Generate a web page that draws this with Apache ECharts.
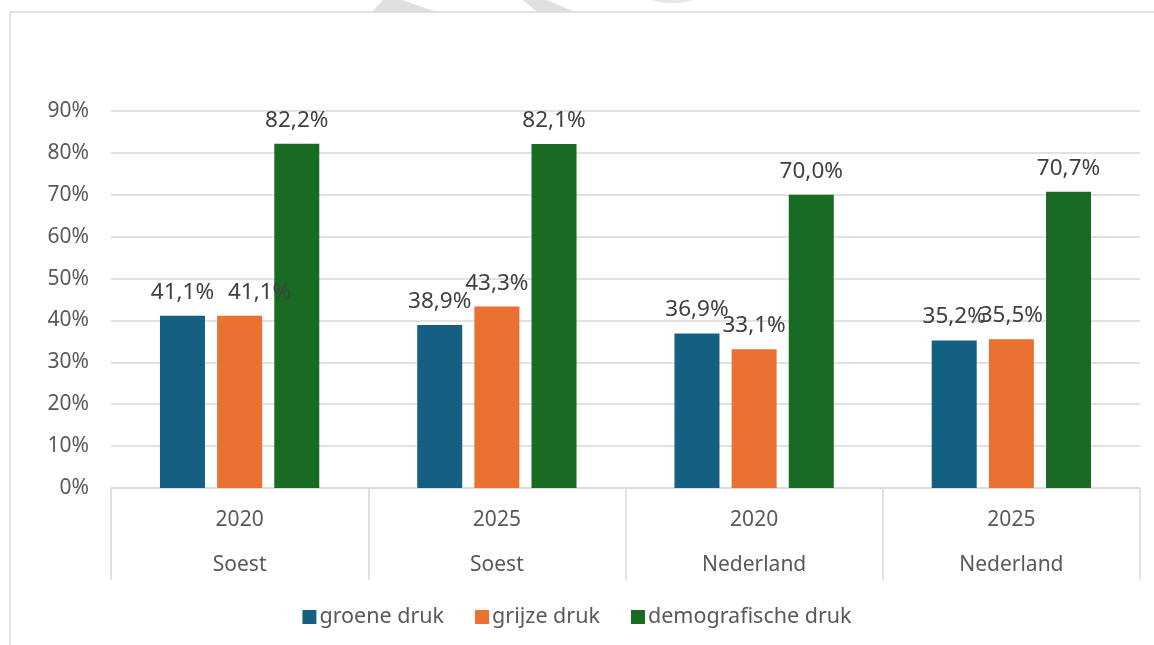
<!DOCTYPE html>
<html>
<head>
<meta charset="utf-8">
<script src="https://cdn.jsdelivr.net/npm/echarts@6/dist/echarts.min.js"></script>
<style>
html,body{margin:0;padding:0;background:#fff;}
#chart{width:1154px;height:645px;}
</style>
</head>
<body>
<div id="chart"></div>
<script>
const years = ['2020', '2025', '2020', '2025'];
const regions = ['Soest', 'Soest', 'Nederland', 'Nederland'];
const seriesNames = ['groene druk', 'grijze druk', 'demografische druk'];
const groeneDruk = [41.1, 38.9, 36.9, 35.2];
const grijzeDruk = [41.1, 43.3, 33.1, 35.5];
const demografischeDruk = [82.2, 82.1, 70.0, 70.7];
const colors = ['#156082', '#E97132', '#196B24'];

const categories = years.map((y, i) => y + '|' + regions[i]);
const FONT = '"Noto Sans", sans-serif';

const chart = echarts.init(document.getElementById('chart'));
const fmt = p => p.value.toFixed(1).replace('.', ',') + '%';
const mkSeries = (name, data, idx, shifted) => ({
  name: name,
  type: 'bar',
  data: data.map((v, i) => (shifted && shifted[i]) ? { value: v, label: { offset: shifted[i] } } : v),
  barWidth: 45,
  barGap: '27%',
  itemStyle: { color: colors[idx] },
  label: {
    show: true, position: 'top', distance: 12,
    formatter: fmt, color: '#404040', fontSize: 22.5, fontFamily: FONT
  }
});

chart.setOption({
  animation: false,
  backgroundColor: '#fff',
  textStyle: { fontFamily: FONT },
  graphic: [
    { type: 'rect', shape: { x: 10, y: 12, width: 1200, height: 700 },
      style: { fill: 'none', stroke: '#d9d9d9', lineWidth: 1.5 }, silent: true, z: -10 },
    { type: 'polygon', shape: { points: [[372,12],[383,0],[402,0],[437,12]] },
      style: { fill: '#e0e0e0' }, silent: true },
    { type: 'polygon', shape: { points: [[537,12],[523,0],[547,0],[575,12]] },
      style: { fill: '#e0e0e0' }, silent: true },
    { type: 'polygon', shape: { points: [[650,0],[693,0],[680,3],[665,3]] },
      style: { fill: '#e6e6e6' }, silent: true }
  ],
  legend: {
    bottom: 12, left: 'center',
    itemWidth: 14, itemHeight: 14, itemGap: 31,
    icon: 'rect',
    textStyle: { color: '#595959', fontSize: 21.5, fontFamily: FONT, padding: [0, 0, 0, -2] },
    data: seriesNames
  },
  grid: { left: 111, right: 14, top: 111, bottom: 157, containLabel: false },
  xAxis: {
    type: 'category',
    data: categories,
    boundaryGap: true,
    axisLine: { lineStyle: { color: '#d9d9d9', width: 1.5 } },
    axisTick: { show: true, interval: 0, length: 92, lineStyle: { color: '#d9d9d9', width: 1.5 } },
    axisLabel: {
      interval: 0, margin: 10,
      formatter: v => { const p = v.split('|'); return '{y|' + p[0] + '}\n{r|' + p[1] + '}'; },
      rich: {
        y: { fontSize: 21, color: '#595959', lineHeight: 45, fontFamily: FONT },
        r: { fontSize: 21, color: '#595959', lineHeight: 45, fontFamily: FONT }
      }
    }
  },
  yAxis: {
    type: 'value', min: 0, max: 90, interval: 10,
    axisLine: { show: false }, axisTick: { show: false },
    splitLine: { lineStyle: { color: '#d9d9d9', width: 1.5 } },
    axisLabel: { formatter: '{value}%', color: '#595959', fontSize: 21, margin: 22, fontFamily: FONT }
  },
  series: [
    mkSeries(seriesNames[0], groeneDruk, 0),
    mkSeries(seriesNames[1], grijzeDruk, 1, [[20, 0]]),
    mkSeries(seriesNames[2], demografischeDruk, 2)
  ]
});
</script>
</body>
</html>
